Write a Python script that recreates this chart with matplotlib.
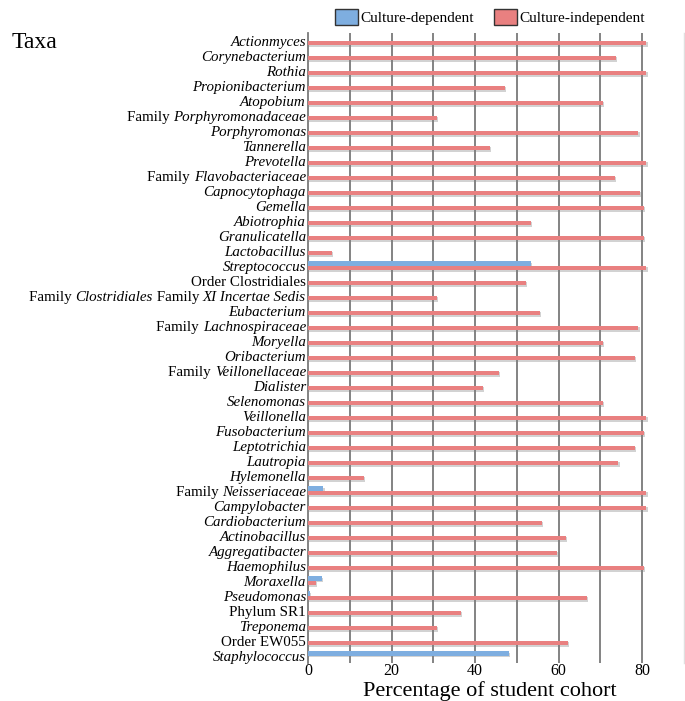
import matplotlib.pyplot as plt
import numpy as np
from matplotlib.patches import Patch
import matplotlib.patheffects as pe

# Taxa, von oben nach unten; (text, kursiv?) Teile pro Label
taxa = [
    [("Actionmyces", True)],
    [("Corynebacterium", True)],
    [("Rothia", True)],
    [("Propionibacterium", True)],
    [("Atopobium", True)],
    [("Family ", False), ("Porphyromonadaceae", True)],
    [("Porphyromonas", True)],
    [("Tannerella", True)],
    [("Prevotella", True)],
    [("Family ", False), ("Flavobacteriaceae", True)],
    [("Capnocytophaga", True)],
    [("Gemella", True)],
    [("Abiotrophia", True)],
    [("Granulicatella", True)],
    [("Lactobacillus", True)],
    [("Streptococcus", True)],
    [("Order Clostridiales", False)],
    [("Family ", False), ("Clostridiales", True), (" Family ", False), ("XI Incertae Sedis", True)],
    [("Eubacterium", True)],
    [("Family ", False), ("Lachnospiraceae", True)],
    [("Moryella", True)],
    [("Oribacterium", True)],
    [("Family ", False), ("Veillonellaceae", True)],
    [("Dialister", True)],
    [("Selenomonas", True)],
    [("Veillonella", True)],
    [("Fusobacterium", True)],
    [("Leptotrichia", True)],
    [("Lautropia", True)],
    [("Hylemonella", True)],
    [("Family ", False), ("Neisseriaceae", True)],
    [("Campylobacter", True)],
    [("Cardiobacterium", True)],
    [("Actinobacillus", True)],
    [("Aggregatibacter", True)],
    [("Haemophilus", True)],
    [("Moraxella", True)],
    [("Pseudomonas", True)],
    [("Phylum SR1", False)],
    [("Treponema", True)],
    [("Order EW055", False)],
    [("Staphylococcus", True)],
]

culture_dependent = [0, 0, 0, 0, 0, 0, 0, 0, 0, 0, 0, 0, 0, 0, 0, 53.3,
                     0, 0, 0, 0, 0, 0, 0, 0, 0, 0, 0, 0, 0, 0, 3.7, 0,
                     0, 0, 0, 0, 3.3, 0.5, 0, 0, 0, 48.1]
culture_independent = [81, 73.8, 81, 47.1, 70.7, 30.8, 79.1, 43.6, 81, 73.4,
                       79.5, 80.5, 53.3, 80.5, 5.8, 81, 52.1, 30.8, 55.6, 79.1,
                       70.7, 78.2, 45.8, 41.8, 70.7, 81, 80.5, 78.2, 74.3, 13.4,
                       81, 81, 56.0, 61.8, 59.6, 80.5, 1.9, 66.7, 36.6, 30.8,
                       62.3, 0]

blue = "#7eaee0"
red = "#e98080"

plt.rcParams["font.family"] = ["Liberation Serif", "DejaVu Serif"]

fig = plt.figure(figsize=(6.85, 7.01), dpi=100)
ax = fig.add_axes([308 / 685, 1 - 663 / 701, 376 / 685, 630 / 701])

y = np.arange(len(taxa))
h = 0.3
b1 = ax.barh(y - h / 2, culture_dependent, height=h, color=blue, zorder=3)
b2 = ax.barh(y + h / 2, culture_independent, height=h, color=red, zorder=3)
for bar in list(b1) + list(b2):
    bar.set_path_effects([pe.withSimplePatchShadow(offset=(0.8, -0.8), shadow_rgbFace="0.5", alpha=0.35)])

ax.set_xlim(0, 90)
ax.set_ylim(len(taxa) - 0.53, -0.53)
for gx in range(10, 90, 10):
    ax.axvline(gx, color="#7a7a7a", lw=1.3, zorder=1)

ax.set_xticks([0, 20, 40, 60, 80])
ax.set_xticklabels(["0", "20", "40", "60", "80"], fontsize=11.5)
ax.tick_params(axis="x", length=0, pad=0)
ax.set_yticks([])

for s in ["top", "bottom"]:
    ax.spines[s].set_visible(False)
ax.spines["left"].set_color("#7a7a7a")
ax.spines["left"].set_linewidth(1.3)
ax.spines["right"].set_color("#e0e0e0")
ax.spines["right"].set_linewidth(1.0)

# y labels with mixed italic parts, right-aligned at the axis
fig.canvas.draw()
renderer = fig.canvas.get_renderer()
W, H = fig.bbox.width, fig.bbox.height
for i, parts in enumerate(taxa):
    xpix, ypix = ax.transData.transform((0, i))
    xpix -= 2
    ypix -= 4.8
    for text, ital in reversed(parts):
        t = fig.text(xpix / W, ypix / H, text, ha="right", va="baseline",
                     fontsize=10.8, style="italic" if ital else "normal")
        xpix -= t.get_window_extent(renderer).width

fig.text(12 / 685, 1 - 42 / 701, "Taxa", fontsize=17, ha="left", va="center")
fig.text(490 / 685, 1 - 696 / 701, "Percentage of student cohort", fontsize=16,
         ha="center", va="baseline")

handles = [Patch(facecolor=blue, edgecolor="#333333", label="Culture-dependent"),
           Patch(facecolor=red, edgecolor="#333333", label="Culture-independent")]
fig.legend(handles=handles, loc="center", bbox_to_anchor=(490 / 685, 1 - 17 / 701),
           ncol=2, frameon=False, fontsize=11, handlelength=1.5, handleheight=1.3,
           handletextpad=0.15, columnspacing=1.3)

fig.savefig("out.png", dpi=100)
